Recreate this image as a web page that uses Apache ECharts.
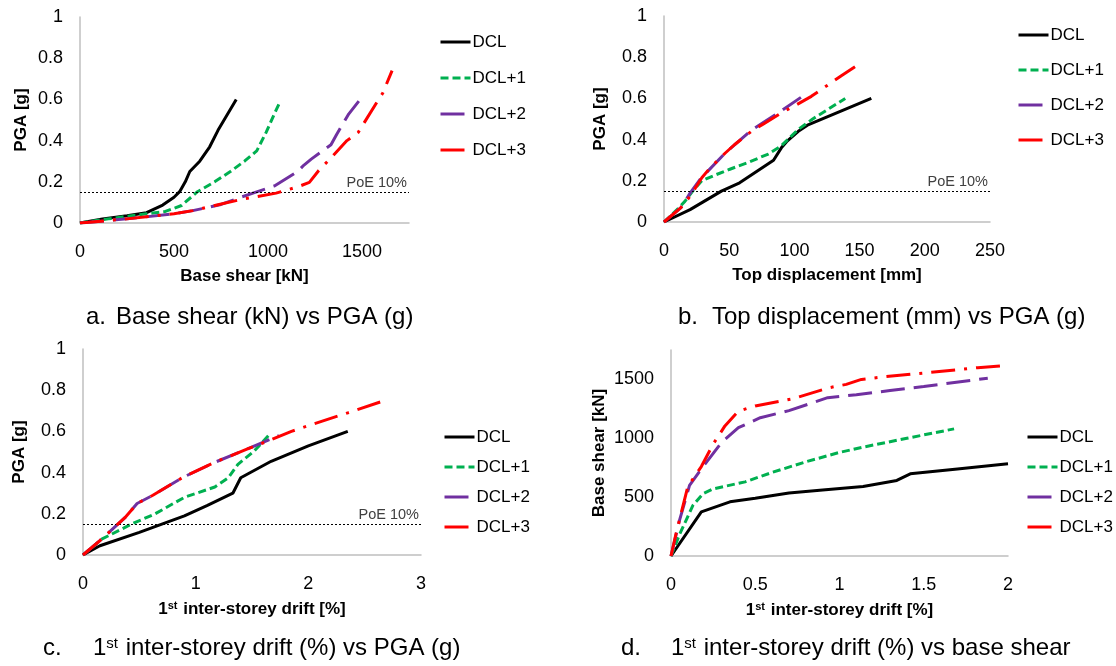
<!DOCTYPE html>
<html><head><meta charset="utf-8">
<script src="https://cdn.jsdelivr.net/npm/echarts@6/dist/echarts.min.js"></script>
<style>html,body{margin:0;padding:0;background:#fff}#c{width:1116px;height:666px}</style>
</head><body><div id="c"></div>
<script>
// ---------- DATA ----------
const seriesNames = ['DCL', 'DCL+1', 'DCL+2', 'DCL+3'];
const poeLevel = 0.15;
const poeText = 'PoE 10%';

// a. Base shear [kN] vs PGA [g]
const aDCL  = [[0,0],[120,0.02],[250,0.035],[354,0.05],[440,0.087],[500,0.125],[530,0.152],[560,0.2],[584,0.25],[637,0.30],[690,0.37],[734,0.45],[831,0.60]];
const aDCL1 = [[0,0],[150,0.02],[354,0.045],[451,0.055],[540,0.085],[625,0.152],[716,0.2],[800,0.25],[875,0.3],[940,0.35],[990,0.44],[1034,0.53],[1065,0.59]];
const aDCL2 = [[0,0],[250,0.02],[495,0.044],[600,0.06],[750,0.09],[855,0.125],[920,0.145],[1034,0.18],[1158,0.25],[1190,0.28],[1230,0.31],[1335,0.38],[1365,0.43],[1430,0.53],[1490,0.6]];
const aDCL3 = [[0,0],[250,0.02],[500,0.045],[600,0.06],[740,0.09],[860,0.115],[1043,0.145],[1160,0.176],[1220,0.197],[1270,0.255],[1344,0.325],[1420,0.4],[1480,0.44],[1575,0.58],[1610,0.63],[1660,0.74]];

// b. Top displacement [mm] vs PGA [g]
const bDCL  = [[0,0],[20,0.06],[44,0.15],[58,0.19],[84,0.30],[90,0.36],[94,0.39],[103,0.44],[110,0.47],[159,0.6]];
const bDCL1 = [[0,0],[10,0.06],[16,0.1],[22,0.15],[29,0.2],[40,0.23],[50,0.255],[64,0.288],[80,0.33],[90,0.37],[103,0.45],[114,0.5],[139,0.6]];
const bDCL2 = [[0,0],[13,0.07],[20,0.14],[28,0.21],[47,0.335],[67,0.445],[90,0.54],[105,0.605]];
const bDCL3 = [[0,0],[13,0.07],[20,0.125],[29,0.215],[35,0.26],[47,0.335],[54,0.375],[67,0.44],[76,0.475],[90,0.53],[99,0.56],[113,0.61],[136,0.71],[148,0.76]];

// c. 1st inter-storey drift [%] vs PGA [g]
const cDCL  = [[0,0],[0.15,0.045],[0.5,0.11],[0.9,0.19],[1.1,0.24],[1.33,0.30],[1.4,0.375],[1.67,0.455],[2.0,0.53],[2.35,0.6]];
const cDCL1 = [[0,0],[0.17,0.078],[0.43,0.15],[0.64,0.2],[0.9,0.28],[1.17,0.33],[1.29,0.375],[1.375,0.44],[1.52,0.505],[1.655,0.585]];
const cDCL2 = [[0,0],[0.15,0.07],[0.37,0.18],[0.48,0.25],[0.62,0.29],[0.88,0.375],[1.17,0.45],[1.46,0.515],[1.74,0.58]];
const cDCL3 = [[0,0],[0.15,0.07],[0.37,0.18],[0.48,0.25],[0.62,0.29],[0.88,0.375],[1.17,0.45],[1.46,0.515],[1.58,0.54],[1.85,0.6],[2.04,0.635],[2.35,0.69],[2.65,0.745]];

// d. 1st inter-storey drift [%] vs base shear [kN]
const dDCL  = [[0,0],[0.18,375],[0.35,460],[0.5,490],[0.7,535],[0.9,560],[1.14,590],[1.34,642],[1.42,698],[1.7,740],[2.0,783]];
const dDCL1 = [[0,0],[0.05,180],[0.13,430],[0.19,530],[0.25,570],[0.44,630],[0.6,710],[0.8,800],[1.0,880],[1.14,925],[1.4,1000],[1.68,1080]];
const dDCL2 = [[0,0],[0.05,300],[0.11,600],[0.18,740],[0.3,965],[0.4,1090],[0.53,1175],[0.7,1235],[0.93,1345],[1.1,1370],[1.3,1405],[1.5,1440],[1.88,1510]];
const dDCL3 = [[0,0],[0.03,190],[0.1,590],[0.18,760],[0.25,950],[0.32,1105],[0.4,1230],[0.5,1275],[0.72,1335],[0.94,1430],[1.04,1458],[1.13,1500],[1.25,1520],[1.52,1557],[1.82,1600],[2.0,1620]];

// axis titles and captions
const axisTitles = {
  aX: 'Base shear [kN]', aY: 'PGA [g]',
  bX: 'Top displacement [mm]', bY: 'PGA [g]',
  cX: '1{sup|st} inter-storey drift [%]', cY: 'PGA [g]',
  dX: '1{sup|st} inter-storey drift [%]', dY: 'Base shear [kN]'
};
const captionLetters = ['a.', 'b.', 'c.', 'd.'];
const captionTexts = [
  'Base shear (kN) vs PGA (g)',
  'Top displacement (mm) vs PGA (g)',
  '1{sup|st} inter-storey drift (%) vs PGA (g)',
  '1{sup|st} inter-storey drift (%) vs base shear'
];

// ---------- STYLE ----------
const FONT = "'Liberation Sans',Arial,sans-serif";
const colors = ['#000000', '#00b050', '#7030a0', '#ff0000'];
const dashes = ['solid', [8, 4], [24, 9], [24, 9, 3, 9]];

const grids = [
  {left: 80, top: 17, width: 329, height: 206},
  {left: 664, top: 16, width: 326, height: 206},
  {left: 83, top: 349, width: 338, height: 206},
  {left: 671, top: 350, width: 337, height: 206}
];

const plain = v => String(v);

function xAxis(i, max, interval, name, hideMax) {
  return {
    gridIndex: i, type: 'value', min: 0, max: max, interval: interval,
    axisLine: {show: true, onZero: false, lineStyle: {color: '#bfbfbf', width: 1.5}},
    axisTick: {show: false}, splitLine: {show: false},
    axisLabel: {fontFamily: FONT, fontSize: 18, color: '#000', margin: 20, showMaxLabel: !hideMax, formatter: plain},
    name: name, nameLocation: 'middle', nameGap: 45,
    nameTextStyle: {fontFamily: FONT, fontWeight: 'bold', fontSize: 17, color: '#000',
      rich: {sup: {fontFamily: FONT, fontWeight: 'bold', fontSize: 11, color: '#000', verticalAlign: 'top', padding: [0, 1, 7, 0]}}}
  };
}
function yAxis(i, max, interval, name, gap, hideMax) {
  return {
    gridIndex: i, type: 'value', min: 0, max: max, interval: interval,
    axisLine: {show: true, lineStyle: {color: '#bfbfbf', width: 1.5}},
    axisTick: {show: false}, splitLine: {show: false},
    axisLabel: {fontFamily: FONT, fontSize: 18, color: '#000', margin: 17, showMaxLabel: !hideMax, formatter: plain},
    name: name, nameLocation: 'middle', nameGap: gap, nameRotate: 90,
    nameTextStyle: {fontFamily: FONT, fontWeight: 'bold', fontSize: 17, color: '#000'}
  };
}

const panelData = [
  [aDCL, aDCL1, aDCL2, aDCL3],
  [bDCL, bDCL1, bDCL2, bDCL3],
  [cDCL, cDCL1, cDCL2, cDCL3],
  [dDCL, dDCL1, dDCL2, dDCL3]
];
const hasPoe = [true, true, true, false];

const series = [];
panelData.forEach((arrs, p) => {
  arrs.forEach((d, k) => {
    const s = {
      type: 'line', name: seriesNames[k], xAxisIndex: p, yAxisIndex: p,
      data: d, symbol: 'none', smooth: false, silent: true,
      lineStyle: {color: colors[k], width: 3, type: dashes[k], cap: 'butt'},
      itemStyle: {color: colors[k], opacity: 0}, z: 2 + k
    };
    if (k === 0 && hasPoe[p]) {
      s.markLine = {
        symbol: 'none', silent: true, animation: false,
        lineStyle: {type: [2, 2], color: '#000', width: 1.2},
        label: {show: true, position: 'insideEndTop', formatter: poeText,
          fontFamily: FONT, fontSize: 14.5, color: '#404040', distance: 2},
        data: [{yAxis: poeLevel}]
      };
    }
    series.push(s);
  });
});

const legendPos = [
  {left: 434, top: 27, itemGap: 16},
  {left: 1012, top: 20, itemGap: 15},
  {left: 438, top: 422, itemGap: 10},
  {left: 1021, top: 422, itemGap: 10}
];
const legends = legendPos.map(lp => ({
  orient: 'vertical', left: lp.left, top: lp.top, itemGap: lp.itemGap,
  itemWidth: 30, itemHeight: 14, selectedMode: false,
  data: seriesNames,
  itemStyle: {opacity: 0},
  lineStyle: {width: 3},
  textStyle: {fontFamily: FONT, fontSize: 17, color: '#000', lineHeight: 20, padding: [0, 0, 0, -3]}
}));

const capPos = [
  {lx: 86, tx: 116, y: 305},
  {lx: 678, tx: 712, y: 305},
  {lx: 43, tx: 93, y: 636},
  {lx: 621, tx: 671, y: 636}
];
const capFont = {fontFamily: FONT, fontSize: 24, fill: '#000'};
const graphic = [];
capPos.forEach((c, i) => {
  graphic.push({type: 'text', left: c.lx, top: c.y, silent: true,
    style: Object.assign({text: captionLetters[i]}, capFont)});
  graphic.push({type: 'text', left: c.tx, top: c.y, silent: true,
    style: Object.assign({text: captionTexts[i],
      rich: {sup: {fontFamily: FONT, fontSize: 15, fill: '#000', verticalAlign: 'top', padding: [0, 1, 10, 0]}}}, capFont)});
});

const option = {
  animation: false,
  backgroundColor: '#fff',
  grid: grids.map(g => Object.assign({containLabel: false, outerBoundsMode: 'none'}, g)),
  xAxis: [
    xAxis(0, 1750, 500, axisTitles.aX, true),
    xAxis(1, 250, 50, axisTitles.bX, false),
    xAxis(2, 3, 1, axisTitles.cX, false),
    xAxis(3, 2, 0.5, axisTitles.dX, false)
  ],
  yAxis: [
    yAxis(0, 1, 0.2, axisTitles.aY, 50, false),
    yAxis(1, 1, 0.2, axisTitles.bY, 55, false),
    yAxis(2, 1, 0.2, axisTitles.cY, 55, false),
    yAxis(3, 1750, 500, axisTitles.dY, 63, true)
  ],
  legend: legends,
  series: series,
  graphic: graphic
};

const chart = echarts.init(document.getElementById('c'), null, {renderer: 'canvas'});
chart.setOption(option);
</script>
</body></html>
